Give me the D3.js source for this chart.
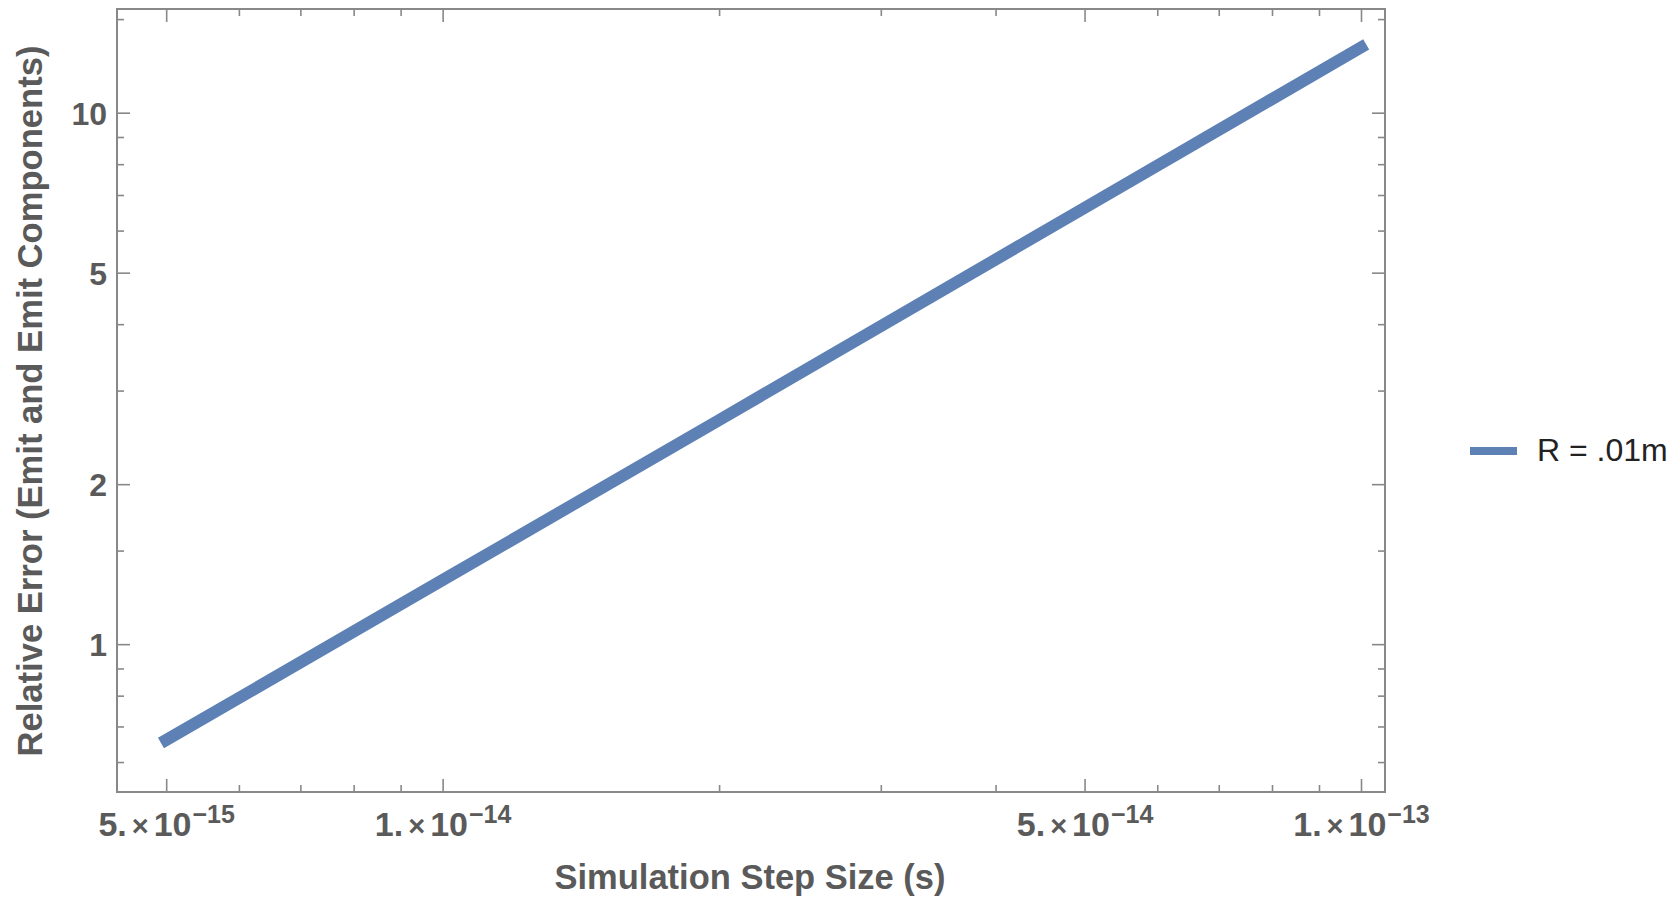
<!DOCTYPE html>
<html>
<head>
<meta charset="utf-8">
<script src="https://cdn.jsdelivr.net/npm/d3@7/dist/d3.min.js"></script>
<style>
  html, body { margin: 0; padding: 0; background: #fff; }
  svg { display: block; }
</style>
</head>
<body>
<svg id="chart" width="1678" height="897"></svg>
<script>
// ---- data ----
const stepSizes = [5e-15, 1e-14, 2e-14, 5e-14, 1e-13];
const relErrors = [0.66, 1.32, 2.64, 6.62, 13.27];
const seriesName = "R = .01m";

const xMajorTicks = [5e-15, 1e-14, 5e-14, 1e-13];
const xTickMantissa = ["5.", "1.", "5.", "1."];
const xTickExponent = ["\u221215", "\u221214", "\u221214", "\u221213"];
const xMinorTicks = [6e-15, 7e-15, 8e-15, 9e-15, 2e-14, 3e-14, 4e-14, 6e-14, 7e-14, 8e-14, 9e-14];
const yMajorTicks = [1, 2, 5, 10];
const yTickLabels = ["1", "2", "5", "10"];
const yMinorTicks = [0.6, 0.7, 0.8, 0.9, 1.5, 3, 4, 6, 7, 8, 9, 15];

const xDomain = [4.42e-15, 1.062e-13];
const yDomain = [0.527, 15.67];

const xLabel = "Simulation Step Size (s)";
const yLabel = "Relative Error (Emit and Emit Components)";

// ---- layout ----
const L = 117, R = 1385, T = 9, B = 792;
const lineColor = "#5e81b5";
const frameColor = "#888888";
const textColor = "#5a5a5a";
const FONT = "'Liberation Sans', Arial, Helvetica, sans-serif";

const svg = d3.select("#chart");

const x = d3.scaleLog().domain(xDomain).range([L, R]);
const y = d3.scaleLog().domain(yDomain).range([B, T]);

const MAJ = 13, MIN = 7;

function styleAxis(g) {
  g.select(".domain").remove();
  g.selectAll(".tick line").attr("stroke", frameColor).attr("stroke-width", 1.6);
}

// bottom major (with labels)
const gxB = svg.append("g").attr("transform", `translate(0,${B})`)
  .call(d3.axisBottom(x).tickValues(xMajorTicks).tickSizeInner(-MAJ).tickSizeOuter(0).tickPadding(20).tickFormat(() => ""));
styleAxis(gxB);
gxB.selectAll(".tick text").each(function(d, i) {
  const t = d3.select(this);
  t.text(null)
    .attr("font-family", FONT).attr("font-weight", "bold").attr("font-size", 34)
    .attr("fill", textColor).attr("dy", "0.71em");
  t.append("tspan").text(xTickMantissa[i]);
  t.append("tspan").attr("font-size", 29).attr("dx", 5).text("\u00d7");
  t.append("tspan").attr("dx", 5).text("10");
  t.append("tspan").attr("font-size", 25).attr("dy", -13).attr("dx", 1).text(xTickExponent[i]);
});
// bottom minor
styleAxis(svg.append("g").attr("transform", `translate(0,${B})`)
  .call(d3.axisBottom(x).tickValues(xMinorTicks).tickSizeInner(-MIN).tickSizeOuter(0).tickFormat(() => "")));
// top
styleAxis(svg.append("g").attr("transform", `translate(0,${T})`)
  .call(d3.axisTop(x).tickValues(xMajorTicks).tickSizeInner(-MAJ).tickSizeOuter(0).tickFormat(() => "")));
styleAxis(svg.append("g").attr("transform", `translate(0,${T})`)
  .call(d3.axisTop(x).tickValues(xMinorTicks).tickSizeInner(-MIN).tickSizeOuter(0).tickFormat(() => "")));

// left major (with labels)
const gyL = svg.append("g").attr("transform", `translate(${L},0)`)
  .call(d3.axisLeft(y).tickValues(yMajorTicks).tickSizeInner(-MAJ).tickSizeOuter(0).tickPadding(10)
    .tickFormat((d, i) => yTickLabels[i]));
styleAxis(gyL);
gyL.selectAll(".tick text")
  .attr("font-family", FONT).attr("font-weight", "bold").attr("font-size", 32)
  .attr("fill", textColor).attr("dy", "0.36em");
styleAxis(svg.append("g").attr("transform", `translate(${L},0)`)
  .call(d3.axisLeft(y).tickValues(yMinorTicks).tickSizeInner(-MIN).tickSizeOuter(0).tickFormat(() => "")));
// right
styleAxis(svg.append("g").attr("transform", `translate(${R},0)`)
  .call(d3.axisRight(y).tickValues(yMajorTicks).tickSizeInner(-MAJ).tickSizeOuter(0).tickFormat(() => "")));
styleAxis(svg.append("g").attr("transform", `translate(${R},0)`)
  .call(d3.axisRight(y).tickValues(yMinorTicks).tickSizeInner(-MIN).tickSizeOuter(0).tickFormat(() => "")));

// frame
svg.append("rect")
  .attr("x", L).attr("y", T).attr("width", R - L).attr("height", B - T)
  .attr("fill", "none").attr("stroke", frameColor).attr("stroke-width", 2);

// data line
const pts = stepSizes.map((s, i) => [s, relErrors[i]]);
svg.append("path")
  .datum(pts)
  .attr("fill", "none")
  .attr("stroke", lineColor)
  .attr("stroke-width", 12)
  .attr("stroke-linecap", "square")
  .attr("stroke-linejoin", "round")
  .attr("d", d3.line().x(d => x(d[0])).y(d => y(d[1])));

// axis labels
svg.append("text")
  .attr("x", (L + R) / 2 - 1).attr("y", 889)
  .attr("text-anchor", "middle")
  .attr("font-family", FONT).attr("font-weight", "bold").attr("font-size", 34.5)
  .attr("fill", textColor)
  .text(xLabel);

svg.append("text")
  .attr("transform", `translate(42,${401}) rotate(-90)`)
  .attr("text-anchor", "middle")
  .attr("font-family", FONT).attr("font-weight", "bold").attr("font-size", 34.6)
  .attr("fill", textColor)
  .text(yLabel);

// legend
const lg = svg.append("g");
lg.append("line")
  .attr("x1", 1470).attr("x2", 1517).attr("y1", 451).attr("y2", 451)
  .attr("stroke", lineColor).attr("stroke-width", 8);
lg.append("text")
  .attr("x", 1537).attr("y", 461)
  .attr("font-family", FONT).attr("font-size", 32)
  .attr("fill", "#222")
  .text(seriesName);
</script>
</body>
</html>
